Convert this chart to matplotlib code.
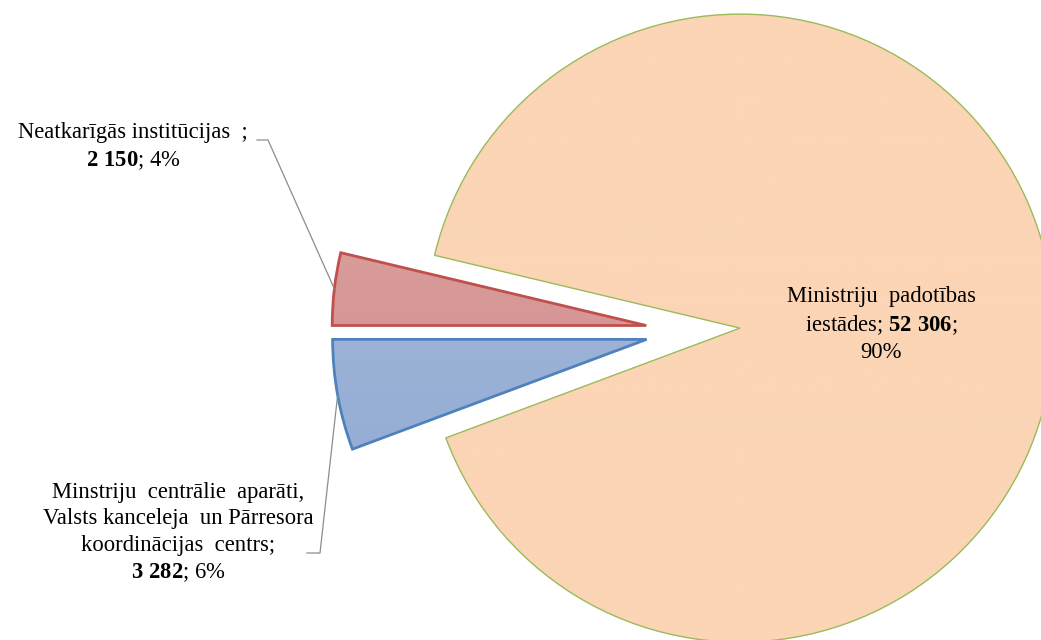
import numpy as np
import matplotlib
matplotlib.use('Agg')
import matplotlib.pyplot as plt

plt.rcParams['font.family'] = ['Liberation Serif', 'DejaVu Serif']
plt.rcParams['mathtext.fontset'] = 'custom'
plt.rcParams['mathtext.rm'] = 'Liberation Serif'
plt.rcParams['mathtext.bf'] = 'Liberation Serif:bold'

# data
categories = ['Neatkarīgās institūcijas', 'Minstriju centrālie aparāti',
              'Ministriju padotības iestādes']
values = [2150, 3282, 52306]
percents = ['4%', '6%', '90%']

face_top = ['#E0AEAD', '#AEC0DD', '#FBD5B5']
face_bot = ['#CC7F7E', '#8AA5D1', '#FBD5B5']
edges = ['#C0504D', '#4F81BD', '#9BBB59']
edge_w = [2.0, 2.0, 1.0]

W, H = 1041, 640
R_PX = 314.0
CX, CY = 693.0, 331.0  # pie centre in pixels (from top)


def px(x, y):
    # pixel (from top-left) -> data coords
    return (x - CX) / R_PX, (CY - y) / R_PX


fig = plt.figure(figsize=(W / 100, H / 100), dpi=100)
ax = fig.add_axes([0, 0, 1, 1])

total = sum(values)
start = 180 - 360 * values[0] / total
wedges, _ = ax.pie(values, explode=[0.15] * 3, startangle=start,
                   counterclock=True, radius=1.0)

ax.axis('off')

# gradient fills clipped to wedges
for w, ct, cb, ec, lw in zip(wedges, face_top, face_bot, edges, edge_w):
    w.set_facecolor('none')
    w.set_edgecolor(ec)
    w.set_linewidth(lw)
    w.set_zorder(3)
    top = np.array(matplotlib.colors.to_rgb(ct))
    bot = np.array(matplotlib.colors.to_rgb(cb))
    cx, cy = w.center
    t = np.linspace(0, 1, 256)[:, None]
    img = (top[None, :] * (1 - t) + bot[None, :] * t)[:, None, :]
    im = ax.imshow(img, extent=[cx - w.r, cx + w.r, cy - w.r, cy + w.r],
                   origin='upper', aspect='auto', zorder=2,
                   interpolation='bilinear')
    im.set_clip_path(w)

ax.set_xlim(-CX / R_PX, (W - CX) / R_PX)
ax.set_ylim(-(H - CY) / R_PX, CY / R_PX)
ax.set_aspect('auto')


def arc_point(w, frac=1.0):
    mid = np.deg2rad((w.theta1 + w.theta2) / 2)
    cx, cy = w.center
    return cx + frac * w.r * np.cos(mid), cy + frac * w.r * np.sin(mid)


fs = 16.3
ls = 1.32
lc = '#8C8C8C'

# label: independent institutions
tx, ty = px(133, 147)
ax.text(tx, ty, 'Neatkarīgās institūcijas  ;\n$\\mathbf{2\\;150}$; ' + percents[0],
        ha='center', va='center', fontsize=fs, linespacing=ls)
ex, ey = arc_point(wedges[0])
k1 = px(257, 140)
k2 = px(268, 140)
ax.plot([k1[0], k2[0], ex], [k1[1], k2[1], ey], color=lc, lw=0.9, zorder=4)

# label: central apparatus
tx, ty = px(178, 533)
ax.text(tx, ty,
        'Minstriju  centrālie  aparāti,\nValsts kanceleja  un Pārresora\n'
        'koordinācijas  centrs;\n$\\mathbf{3\\;282}$; ' + percents[1],
        ha='center', va='center', fontsize=fs, linespacing=ls)
ex, ey = arc_point(wedges[1])
k1 = px(307, 553)
k2 = px(320, 553)
ax.plot([k1[0], k2[0], ex], [k1[1], k2[1], ey], color=lc, lw=0.9, zorder=4)

# label: subordinate institutions (inside slice)
lx, ly = arc_point(wedges[2], 0.45)
ax.text(lx, ly - 5 / R_PX,
        'Ministriju  padotības\niestādes; $\\mathbf{52\\;306}$;\n' + percents[2],
        ha='center', va='center', fontsize=fs, linespacing=ls, zorder=5)

fig.savefig('out.png', dpi=100)
